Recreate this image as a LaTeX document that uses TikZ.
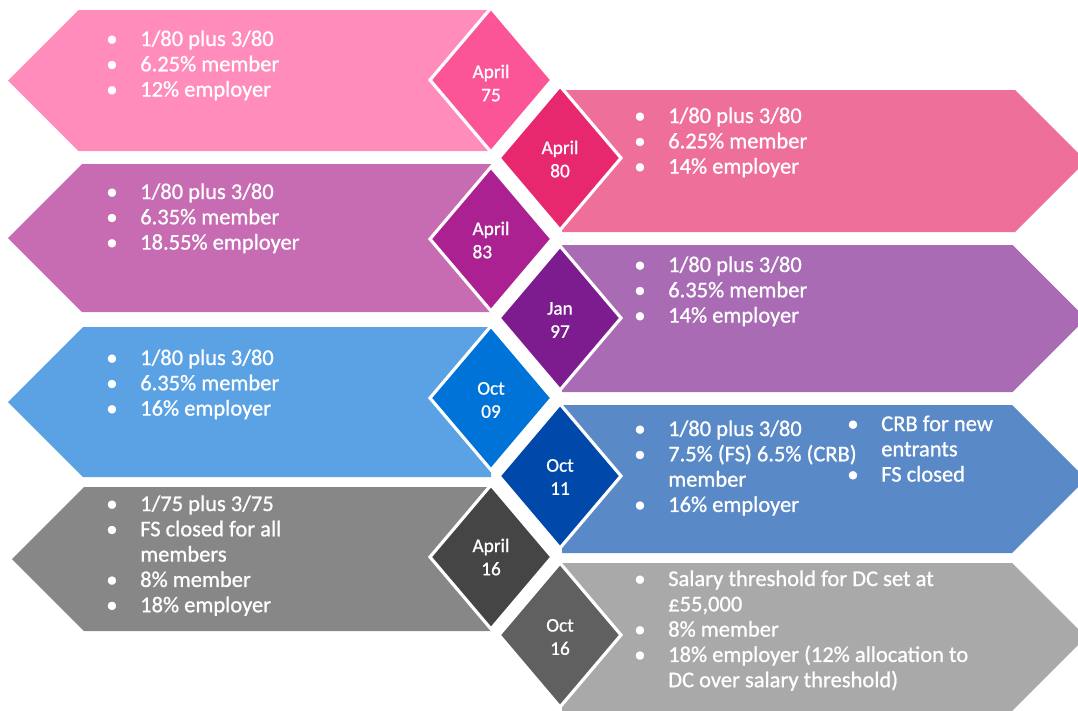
\documentclass[tikz,border=0pt]{standalone}
\usepackage{fontspec}
\setmainfont{Carlito}[Numbers=OldStyle]
\newfontfamily\bodyfont{Carlito}[FakeBold=0.9]
\definecolor{lpink}{HTML}{FF8CBA}
\definecolor{lorchid}{HTML}{C76BB3}
\definecolor{lblue}{HTML}{5AA2E4}
\definecolor{lgray}{HTML}{878787}
\definecolor{rpink}{HTML}{EF6F9B}
\definecolor{rlav}{HTML}{A86BB4}
\definecolor{rblue}{HTML}{5A89C8}
\definecolor{rgray}{HTML}{A9A9A9}
\definecolor{dsevfive}{HTML}{FB5597}
\definecolor{deighty}{HTML}{E8286E}
\definecolor{deightthree}{HTML}{AC2192}
\definecolor{dninesev}{HTML}{7C1C8E}
\definecolor{doctnine}{HTML}{0073D8}
\definecolor{docteleven}{HTML}{0048AA}
\definecolor{daprsix}{HTML}{454545}
\definecolor{doctsix}{HTML}{606060}
\newcommand{\blist}[1]{\begin{tabular}[t]{@{}p{19.3pt}@{}l@{}}#1\end{tabular}}
\newcommand{\itm}{\textbullet &}
\begin{document}
\begin{tikzpicture}[x=0.02cm,y=-0.02cm]
\tikzset{
pts/.style={text=white,anchor=base west,inner sep=0pt,font=\bodyfont\fontsize{12.8}{14.4}\selectfont},
dat/.style={text=white,align=center,inner sep=0pt,font=\bodyfont\fontsize{11}{13.2}\selectfont},
}
\useasboundingbox (0,0) rectangle (1078,710);
\clip (0,0) rectangle (1078,710);
\foreach \t/\b/\x/\c in {10/151/8/lpink,164/312/8/lorchid,327/477/8/lblue,487/631/12/lgray}{
\fill[\c] (491,\t) -- ({\x+(\b-\t)/2},\t) -- (\x,{(\t+\b)/2}) -- ({\x+(\b-\t)/2},\b) -- (491,\b) -- cycle;
}
\foreach \t/\b/\c in {90/232/rpink,245/392/rlav,405/553/rblue,563/711/rgray}{
\fill[\c] (562,\t) -- ({1086-(\b-\t)/2},\t) -- (1086,{(\t+\b)/2}) -- ({1086-(\b-\t)/2},\b) -- (562,\b) -- cycle;
}
\foreach \x/\y/\c in {491/80/dsevfive,560/158/deighty,491/239/deightthree,560/318/dninesev,491/398/doctnine,560/476/docteleven,491/557/daprsix,560/635/doctsix}{
\filldraw[fill=\c,draw=white,line width=1.8pt] ({\x-61},\y) -- (\x,{\y-72}) -- ({\x+61},\y) -- (\x,{\y+72}) -- cycle;
}
\node[dat] (apr75) at (491,83) {April\\75};
\node[dat] (apr80) at (560,159) {April\\80};
\node[dat,align=left] (apr83) at (491,240) {April\\83};
\node[dat] (jan97) at (560,320) {Jan\\97};
\node[dat] (oct09) at (491,400) {Oct\\09};
\node[dat] (oct11) at (560,477) {Oct\\11};
\node[dat] (apr16) at (491,557) {April\\16};
\node[dat] (oct16) at (560,637) {Oct\\16};
\node[pts] (txt75) at (106,46) {\blist{\itm 1/80 plus 3/80\\ \itm 6.25\% member\\ \itm 12\% employer}};
\node[pts] (txt80) at (634,123) {\blist{\itm 1/80 plus 3/80\\ \itm 6.25\% member\\ \itm 14\% employer}};
\node[pts] (txt83) at (106,199) {\blist{\itm 1/80 plus 3/80\\ \itm 6.35\% member\\ \itm 18.55\% employer}};
\node[pts] (txt97) at (634,272) {\blist{\itm 1/80 plus 3/80\\ \itm 6.35\% member\\ \itm 14\% employer}};
\node[pts] (txt09) at (106,365) {\blist{\itm 1/80 plus 3/80\\ \itm 6.35\% member\\ \itm 16\% employer}};
\node[pts] (txt11) at (634,436) {\blist{\itm 1/80 plus 3/80\\ \itm 7.5\% (FS) 6.5\% (CRB)\\ & member\\ \itm 16\% employer}};
\node[pts] (txt11b) at (847,431) {\blist{\itm CRB for new\\ & entrants\\ \itm FS closed}};
\node[pts] (txt16a) at (106,511) {\blist{\itm 1/75 plus 3/75\\ \itm FS closed for all\\ & members\\ \itm 8\% member\\ \itm 18\% employer}};
\node[pts] (txt16b) at (634,586) {\blist{\itm Salary threshold for DC set at\\ & £55,000\\ \itm 8\% member\\ \itm 18\% employer (12\% allocation to\\ & DC over salary threshold)}};
\end{tikzpicture}
\end{document}
